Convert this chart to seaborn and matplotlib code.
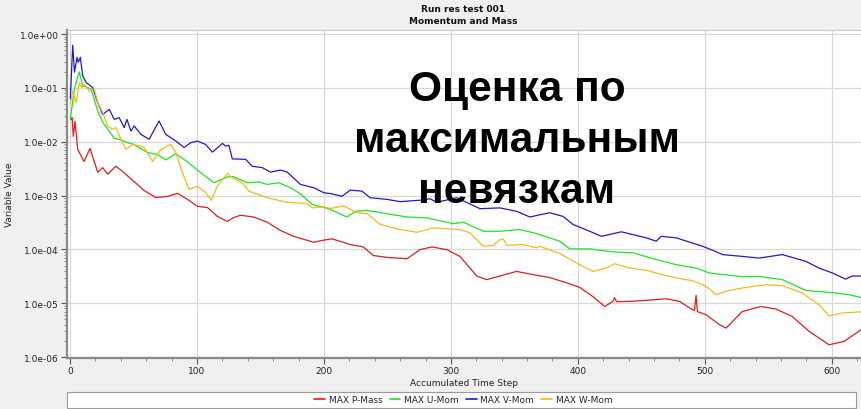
import numpy as np
import pandas as pd
import matplotlib
matplotlib.use("Agg")
import matplotlib.pyplot as plt
import matplotlib.ticker as mticker
from matplotlib.patches import Rectangle
from matplotlib.lines import Line2D
import seaborn as sns

# ---------------- data ----------------
p_mass_step = [0.8, 1.6, 2.6, 3.9, 6.0, 11.0, 15.7, 21.8, 25.7, 29.6, 36.1, 41.4, 50.3, 58.1, 67.6,
               76.7, 84.6, 92.5, 100.3, 108.2, 116, 123.9, 128.8, 134.3, 144.5, 155.3, 165.8, 176,
               191.7, 199.5, 206.4, 220.7, 231, 238.8, 249.6, 265.3, 275.7, 284.9, 296.7, 307.1,
               320.3, 328.1, 338.6, 351.7, 364.5, 377.8, 391, 401.4, 411.6, 421.1, 427.3, 428.9,
               430.5, 440.7, 453.8, 469.5, 480, 490.2, 491.8, 493.1, 494.1, 501, 511.4, 516.7,
               529.5, 544.1, 555.9, 568.7, 582.1, 597.8, 609.6, 622.9]
p_mass_val = [2.6e-2, 2.8e-2, 1.26e-2, 2.4e-2, 7.2e-3, 4.3e-3, 7.5e-3, 2.7e-3, 3.3e-3, 2.5e-3, 3.5e-3,
              2.8e-3, 1.83e-3, 1.25e-3, 9.2e-4, 9.6e-4, 1.1e-3, 8.5e-4, 6.3e-4, 6.0e-4, 4.1e-4,
              3.3e-4, 3.9e-4, 4.3e-4, 4.0e-4, 3.2e-4, 2.24e-4, 1.75e-4, 1.36e-4, 1.48e-4, 1.57e-4,
              1.23e-4, 1.11e-4, 7.7e-5, 7.1e-5, 6.7e-5, 9.9e-5, 1.11e-4, 9.9e-5, 7.4e-5, 3.2e-5,
              2.74e-5, 3.2e-5, 3.9e-5, 3.4e-5, 3.0e-5, 2.4e-5, 1.97e-5, 1.34e-5, 8.7e-6, 1.07e-5,
              1.26e-5, 1.07e-5, 1.08e-5, 1.13e-5, 1.21e-5, 1.08e-5, 7.6e-6, 7.4e-6, 1.4e-5, 7.0e-6,
              6.1e-6, 4.0e-6, 3.45e-6, 7.0e-6, 8.7e-6, 7.8e-6, 5.7e-6, 3.0e-6, 1.69e-6, 1.95e-6,
              3.2e-6]

u_mom_step = [0.2, 3.4, 5.5, 7.3, 10, 13.9, 16.5, 17.8, 21.8, 25.7, 30.9, 34.8, 38.7, 45.3, 50.3,
              61, 68.9, 75.4, 83.3, 92.5, 102.9, 113.4, 123.9, 128.8, 139.6, 148.7, 155.3, 164.4,
              173.6, 181.5, 190.7, 198.5, 205, 218.1, 224.7, 233.9, 249.6, 265.3, 281, 301.9,
              309.7, 325.5, 338.6, 354.3, 367.4, 385.7, 393.6, 409.3, 427.6, 443.3, 461.7, 477.4,
              493.1, 503.5, 529.7, 542.8, 561.1, 579.5, 597.8, 613.5, 622.9]
u_mom_val = [2.6e-2, 9.5e-2, 0.145, 0.199, 0.109, 0.102, 9.5e-2, 7.6e-2, 3.7e-2, 2.3e-2, 1.56e-2,
             1.16e-2, 1.11e-2, 9.6e-3, 8.9e-3, 6.3e-3, 5.8e-3, 4.6e-3, 6.0e-3, 4.2e-3, 2.66e-3,
             1.73e-3, 2.22e-3, 2.24e-3, 1.73e-3, 1.78e-3, 1.61e-3, 1.73e-3, 1.40e-3, 1.07e-3,
             6.8e-4, 6.2e-4, 5.5e-4, 4.0e-4, 5.1e-4, 5.3e-4, 4.6e-4, 4.0e-4, 3.86e-4, 3.0e-4,
             3.2e-4, 2.17e-4, 2.17e-4, 2.34e-4, 1.97e-4, 1.42e-4, 1.02e-4, 1.02e-4, 9.0e-5, 8.6e-5,
             6.5e-5, 5.2e-5, 4.5e-5, 3.65e-5, 3.1e-5, 3.15e-5, 2.74e-5, 1.73e-5, 1.59e-5, 1.44e-5,
             1.28e-5]

v_mom_step = [0.2, 2.1, 3.5, 5.5, 6.5, 8.1, 10, 12.6, 17.8, 21.8, 25.7, 30.9, 34.8, 38.7, 42.7,
              44.8, 47.9, 50.5, 55.8, 62.3, 70.1, 75.4, 83.3, 89.8, 95.1, 100.3, 106.8, 112.1, 120,
              122.5, 125.1, 127.8, 138.3, 143.5, 151.4, 157.9, 165.7, 171, 181.5, 191.9, 199.8,
              205, 214.2, 220.7, 229.9, 236.4, 249.6, 260, 275.7, 283.6, 288.8, 304.6, 322.9,
              338.6, 351.7, 362.1, 377.8, 388.3, 396.2, 409.3, 418.5, 434.2, 453.8, 461.7, 465.6,
              477.4, 498.3, 503.5, 514, 529.7, 542.8, 561.1, 579.5, 589.9, 600.4, 610.9, 616.1,
              622.9]
v_mom_val = [6.2e-2, 0.62, 0.196, 0.37, 0.30, 0.37, 0.167, 0.126, 0.102, 5.3e-2, 3.2e-2, 4.0e-2,
             2.6e-2, 2.8e-2, 1.83e-2, 2.6e-2, 1.58e-2, 1.96e-2, 1.37e-2, 1.11e-2, 2.43e-2,
             1.37e-2, 1.03e-2, 7.8e-3, 9.6e-3, 1.03e-2, 8.9e-3, 6.4e-3, 9.3e-3, 8.3e-3, 8.6e-3,
             4.8e-3, 4.7e-3, 3.5e-3, 3.3e-3, 2.73e-3, 2.97e-3, 2.73e-3, 1.61e-3, 1.40e-3, 1.13e-3,
             1.09e-3, 9.7e-4, 1.26e-3, 1.21e-3, 9.1e-4, 8.5e-4, 7.7e-4, 8.2e-4, 8.7e-4, 7.5e-4,
             9.1e-4, 5.7e-4, 5.9e-4, 5.1e-4, 4.0e-4, 4.8e-4, 4.1e-4, 2.9e-4, 2.17e-4, 1.75e-4,
             2.12e-4, 1.64e-4, 1.42e-4, 1.75e-4, 1.64e-4, 1.14e-4, 1.02e-4, 8.0e-5, 7.4e-5, 6.9e-5,
             8.0e-5, 6.0e-5, 4.5e-5, 3.65e-5, 2.8e-5, 3.2e-5, 3.2e-5]

w_mom_step = [0.2, 2.1, 4.7, 7.3, 9.2, 11.2, 15.2, 19.1, 21.8, 25.7, 29.6, 33.5, 36.1, 40.1, 44,
              49.3, 55.8, 58.4, 65, 71.5, 79.3, 83.3, 88.5, 93.7, 100.3, 106.8, 111.3, 116, 123.9,
              127.8, 135.7, 140.8, 155.3, 171, 186.7, 190.7, 199.8, 205, 215.5, 226, 233.9, 244.3,
              260, 273.1, 286.2, 307.1, 315, 325.5, 333.3, 338.6, 341.2, 343.8, 356.9, 367.4, 370,
              385.7, 401.4, 411.9, 422.4, 428.9, 440.7, 453.8, 464.3, 477.4, 490.4, 501, 508.8,
              519.2, 529.7, 548.1, 561.1, 576.8, 589.9, 597.8, 608.3, 622.9]
w_mom_val = [5.0e-2, 8.8e-2, 5.3e-2, 0.126, 0.102, 0.117, 8.8e-2, 9.5e-2, 5.3e-2, 3.5e-2, 1.96e-2,
             1.70e-2, 1.83e-2, 1.11e-2, 7.2e-3, 8.9e-3, 8.3e-3, 7.8e-3, 4.3e-3, 7.2e-3, 8.9e-3,
             6.3e-3, 2.66e-3, 1.30e-3, 1.50e-3, 1.13e-3, 8.2e-4, 1.51e-3, 2.58e-3, 2.14e-3,
             1.73e-3, 1.21e-3, 9.1e-4, 7.5e-4, 7.1e-4, 5.9e-4, 6.2e-4, 5.75e-4, 6.4e-4, 4.8e-4,
             4.6e-4, 2.9e-4, 2.34e-4, 2.08e-4, 2.5e-4, 2.34e-4, 2.03e-4, 1.14e-4, 1.19e-4, 1.52e-4,
             1.57e-4, 1.19e-4, 1.23e-4, 1.07e-4, 1.14e-4, 8.4e-5, 5.2e-5, 3.9e-5, 4.5e-5, 5.4e-5,
             4.5e-5, 4.1e-5, 3.5e-5, 2.94e-5, 2.62e-5, 2.06e-5, 1.44e-5, 1.73e-5, 1.92e-5, 2.21e-5,
             2.12e-5, 1.55e-5, 9.4e-6, 5.8e-6, 6.6e-6, 6.9e-6]

series_names = ["MAX P-Mass", "MAX U-Mom", "MAX V-Mom", "MAX W-Mom"]
series_colors = ["#dc1e1e", "#22e022", "#1c1cc8", "#f5b820"]
x_ticks = [0, 100, 200, 300, 400, 500, 600]
title_lines = ["Run res test 001", "Momentum and Mass"]
overlay_text = "Оценка по\nмаксимальным\nневязкам"

# ---------------- build long table ----------------
frames = []
for name, xs, ys in zip(series_names,
                        [p_mass_step, u_mom_step, v_mom_step, w_mom_step],
                        [p_mass_val, u_mom_val, v_mom_val, w_mom_val]):
    frames.append(pd.DataFrame({"step": xs, "value": ys, "series": name}))
df = pd.concat(frames, ignore_index=True)

sns.set_theme(style="white")
plt.rcParams["font.family"] = ["DejaVu Sans"]

fig = plt.figure(figsize=(8.62, 4.10), dpi=100, facecolor="#f0f0f0")
ax = fig.add_axes([67 / 862, 1 - 359 / 410, (861 - 67) / 862, (359 - 31) / 410])
ax.set_facecolor("white")

sns.lineplot(data=df, x="step", y="value", hue="series", hue_order=series_names,
             palette=dict(zip(series_names, series_colors)), estimator=None, sort=False,
             linewidth=0.9, legend=False, ax=ax)

ax.set_yscale("log")
ax.set_xlim(-2.4, 623)
ax.set_ylim(9.6e-7, 1.19)
ax.set_xticks(x_ticks)
ax.xaxis.set_minor_locator(mticker.MultipleLocator(20))
ax.yaxis.set_major_locator(mticker.LogLocator(base=10, numticks=10))
ax.yaxis.set_minor_locator(mticker.LogLocator(base=10, subs=np.arange(2, 10), numticks=20))
ax.yaxis.set_minor_formatter(mticker.NullFormatter())
ax.yaxis.set_major_formatter(mticker.FuncFormatter(lambda v, p: f"{v:.1e}"))

ax.grid(True, which="major", color="#d8d8d8", linewidth=0.9)
ax.tick_params(axis="both", which="major", labelsize=6.5, length=4, width=0.8,
               color="#555555", labelcolor="#222222", direction="out", pad=2)
ax.tick_params(axis="both", which="minor", length=2, width=0.6, color="#777777",
               direction="out")
ax.tick_params(axis="x", which="both", bottom=True)
ax.tick_params(axis="y", which="both", left=True)

for side in ["top", "right"]:
    ax.spines[side].set_color("#c8c8c8")
    ax.spines[side].set_linewidth(0.8)
for side in ["left", "bottom"]:
    ax.spines[side].set_color("#8a8a8a")
    ax.spines[side].set_linewidth(1.6)

ax.set_xlabel("Accumulated Time Step", fontsize=6.5, color="#222222", labelpad=2)
ax.set_ylabel("Variable Value", fontsize=6.5, color="#222222")
ax.yaxis.set_label_coords((14 - 67) / 794, 0.5)

fig.text(0.5375, 1 - 9 / 410, title_lines[0], ha="center", va="center",
         fontsize=6.5, fontweight="bold", color="#111111")
fig.text(0.5375, 1 - 21 / 410, title_lines[1], ha="center", va="center",
         fontsize=6.5, fontweight="bold", color="#111111")

# overlay annotation
fig.text(517 / 862, 1 - 141 / 410, overlay_text, ha="center", va="center",
         fontsize=30.5, fontweight="bold", color="black", family=["Liberation Sans"],
         linespacing=1.36)

# legend box below the axes
fig.patches.append(Rectangle((67 / 862, 1 - 409 / 410), (856 - 67) / 862, 16 / 410,
                             transform=fig.transFigure, facecolor="white",
                             edgecolor="#9a9a9a", linewidth=0.8))
handles = [Line2D([0], [0], color=c, linewidth=1.2) for c in series_colors]
fig.legend(handles, series_names, loc="center", bbox_to_anchor=(0.5375, 1 - 401 / 410),
           ncol=4, frameon=False, fontsize=6.5, handlelength=1.2, handletextpad=0.4,
           columnspacing=0.8, borderpad=0.1)

fig.savefig("out.png", dpi=100, facecolor=fig.get_facecolor())
